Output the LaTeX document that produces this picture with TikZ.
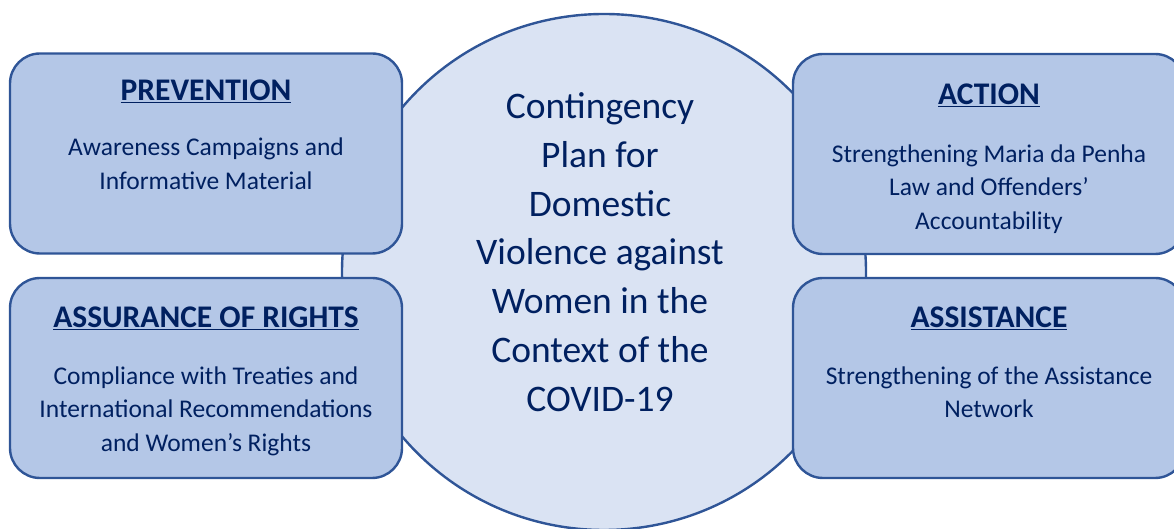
\documentclass[tikz,border=0pt]{standalone}
\usepackage{fontspec}
\setmainfont{Carlito}
\usetikzlibrary{shapes.geometric}
\definecolor{planfill}{HTML}{DAE3F3}
\definecolor{boxfill}{HTML}{B4C7E7}
\definecolor{edgeblue}{HTML}{2F5597}
\definecolor{inkblue}{HTML}{002060}
\tikzset{
  hub/.style = {ellipse, draw = edgeblue, fill = planfill, line width = 2.4pt, minimum width = 524pt, minimum height = 516pt, inner sep = 0pt},
  pillar/.style = {rectangle, rounded corners = 30pt, draw = edgeblue, fill = boxfill, line width = 2.4pt, minimum width = 392pt, minimum height = 200pt},
  pillartitle/.style = {anchor = base, text = inkblue, font = \fontsize{31.5}{37}\selectfont\bfseries, inner sep = 0pt},
  pillartext/.style = {anchor = north, align = center, text = inkblue, font = \fontsize{25.5}{33.5}\selectfont, inner sep = 0pt},
  plantext/.style = {align = center, text = inkblue, font = \fontsize{37.5}{48.8}\selectfont, inner sep = 0pt}
}
\begin{document}
\begin{tikzpicture} [x = 1pt, y = 1pt]
\useasboundingbox (0, 0) rectangle (1174, 529);
\node[hub] (plan) at (604, 257) {};
\node[plantext] (plantitle) at (600, 277) {Contingency\\ Plan for\\ Domestic\\ Violence against\\ Women in the\\ Context of the\\ COVID-19};
\node[pillar] (prev) at (206, 375.5) {};
\node[pillar] (assur) at (206, 151) {};
\node[pillar] (action) at (989, 375) {};
\node[pillar] (assist) at (989, 151) {};
\node[pillartitle] (prevtitle) at ([yshift = -48pt]prev.north) {\underline{PREVENTION}};
\node[pillartitle] (assurtitle) at ([yshift = -51pt]assur.north) {\underline{ASSURANCE OF RIGHTS}};
\node[pillartitle] (actiontitle) at ([yshift = -52pt]action.north) {\underline{ACTION}};
\node[pillartitle] (assisttitle) at ([yshift = -51pt]assist.north) {\underline{ASSISTANCE}};
\node[pillartext] (prevtext) at ([yshift = -85.5pt]prev.north) {Awareness Campaigns and\\ Informative Material};
\node[pillartext] (assurtext) at ([yshift = -89.5pt]assur.north) {Compliance with Treaties and\\ International Recommendations\\ and Women’s Rights};
\node[pillartext] (actiontext) at ([yshift = -91.5pt]action.north) {Strengthening Maria da Penha\\ Law and Offenders’\\ Accountability};
\node[pillartext] (assisttext) at ([yshift = -89.5pt]assist.north) {Strengthening of the Assistance\\ Network};
\end{tikzpicture}
\end{document}
